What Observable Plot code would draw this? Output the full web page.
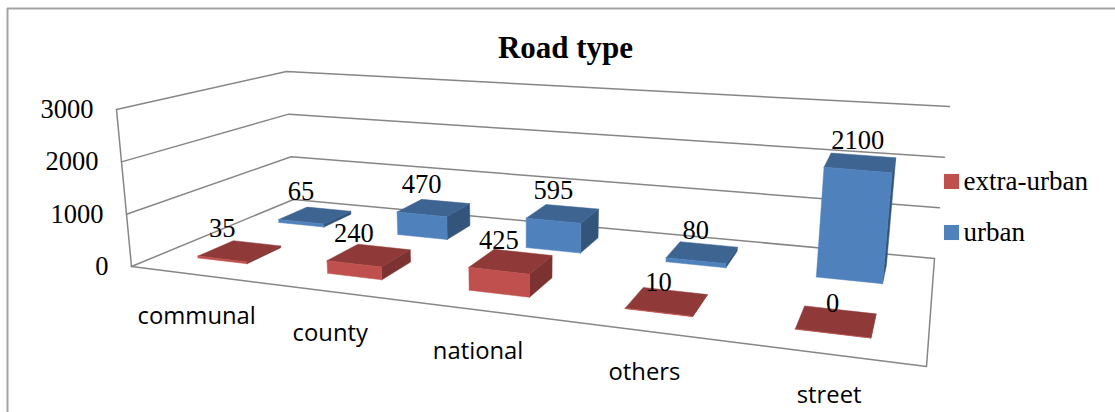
<!DOCTYPE html>
<html>
<head>
<meta charset="utf-8">
<script src="https://cdn.jsdelivr.net/npm/d3@7"></script>
<script src="https://cdn.jsdelivr.net/npm/@observablehq/plot@0.6"></script>
<style>
  html, body { margin: 0; padding: 0; background: #fff; }
  svg { display: block; }
</style>
</head>
<body>
<div id="chart"></div>
<script>
// Road type totals per category and series
const categories = ["communal", "county", "national", "others", "street"];
const extraUrban = [35, 240, 425, 10, 0];
const urban = [65, 470, 595, 80, 2100];
const axisTicks = [0, 1000, 2000, 3000];
const axisMax = 3000;
const seriesNames = ["extra-urban", "urban"];

const width = 1115, height = 412;

// Camera of the 3D box: floor corners on the page, the point where verticals
// converge, and how far a full-scale column rises at each floor corner
const camera = {
  floor: {fl: [131, 266], fr: [926, 366], br: [934, 258], bl: [293, 199]},
  vanish: [526, 4397],
  rise: {fl: 0.038, fr: 0.043, br: 0.0367, bl: 0.0305}
};
// Slots along the floor for each category, and the two depth rows
const slotCentres = [0.1, 0.305, 0.507, 0.707, 0.902];
const labelSlots = [0.1, 0.302, 0.503, 0.705, 0.904];
const barLayout = {width: 0.4, depth: 0.205, rows: [0.16, 0.66]};

const palette = {
  "extra-urban": {front: "#C0504D", top: "#8F3A38", side: "#7B3230"},
  "urban": {front: "#4F81BD", top: "#3E6492", side: "#33557C"}
};

// Unit square to quadrilateral homography
function quadMap({fl, fr, br, bl}) {
  const [x0, y0] = fl, [x1, y1] = fr, [x2, y2] = br, [x3, y3] = bl;
  const dx1 = x1 - x2, dx2 = x3 - x2, sx = x0 - x1 + x2 - x3;
  const dy1 = y1 - y2, dy2 = y3 - y2, sy = y0 - y1 + y2 - y3;
  const den = dx1 * dy2 - dx2 * dy1;
  const g = (sx * dy2 - dx2 * sy) / den;
  const h = (dx1 * sy - sx * dy1) / den;
  const a = x1 - x0 + g * x1, b = x3 - x0 + h * x3;
  const d = y1 - y0 + g * y1, e = y3 - y0 + h * y3;
  return (u, v) => {
    const q = g * u + h * v + 1;
    return [(a * u + b * v + x0) / q, (d * u + e * v + y0) / q];
  };
}
const floorMap = quadMap(camera.floor);

// u runs along the categories, v into the depth, value up the vertical axis
function project(u, v, value) {
  const [px, py] = floorMap(u, v);
  const {fl, fr, br, bl} = camera.rise;
  const near = fl + (fr - fl) * u, far = bl + (br - bl) * u;
  const k = (near + (far - near) * v) * (value / axisMax);
  return [px + (px - camera.vanish[0]) * k, py + (py - camera.vanish[1]) * k];
}

// Polygons are flattened to vertices grouped by id, painted in array order
const polys = [];
const addPoly = (color, corners) => {
  const id = polys.length ? polys[polys.length - 1].id + 1 : 0;
  for (const [u, v, val] of corners) {
    const [x, y] = project(u, v, val);
    polys.push({id, color, x, y});
  }
  const [x, y] = project(...corners[0]);
  polys.push({id, color, x, y});
};

const dataLabels = [];
[[urban, "urban", 1], [extraUrban, "extra-urban", 0]].forEach(([values, name, row]) => {
  values.forEach((value, i) => {
    const uc = slotCentres[i];
    const half = barLayout.width / categories.length / 2;
    const u0 = uc - half, u1 = uc + half;
    const v0 = barLayout.rows[row], v1 = v0 + barLayout.depth;
    const c = palette[name];
    addPoly(c.side, [[u1, v0, 0], [u1, v1, 0], [u1, v1, value], [u1, v0, value]]);
    addPoly(c.top, [[u0, v0, value], [u1, v0, value], [u1, v1, value], [u0, v1, value]]);
    addPoly(c.front, [[u0, v0, 0], [u1, v0, 0], [u1, v0, value], [u0, v0, value]]);
    const [x, y] = project(uc, v0, value);
    dataLabels.push({x, y, value});
  });
});

// Box outline and gridlines
const gridPaths = [];
const addPath = (pts) => {
  const id = gridPaths.length ? gridPaths[gridPaths.length - 1].id + 1 : 0;
  pts.forEach(([u, v, val]) => {
    const [x, y] = project(u, v, val);
    gridPaths.push({id, x, y});
  });
};
axisTicks.forEach((t) => addPath([[0, 0, t], [0, 1, t], [1, 1, t]]));
addPath([[0, 0, 0], [0, 0, axisMax]]);
addPath([[0, 0, 0], [1, 0, 0], [1, 1, 0]]);

const tickLabels = axisTicks.map((t) => {
  const [x, y] = project(0, 0, t);
  return {x, y, t};
});
const categoryLabels = categories.map((name, i) => {
  const [x, y] = project(labelSlots[i], 0.02, 0);
  return {x, y, name};
});

const frame = [{x: 7, y: height}, {x: 7, y: 8}, {x: width, y: 8}];
const legendRows = seriesNames.map((name, i) => ({name, x: 951, y: 181 + i * 51}));

const serif = "'Liberation Serif', serif";

const chart = Plot.plot({
  width, height,
  margin: 0,
  style: {background: "#fff", overflow: "hidden"},
  x: {domain: [0, width], range: [0, width], axis: null},
  y: {domain: [0, height], range: [0, height], axis: null},
  marks: [
    Plot.line(frame, {x: "x", y: "y", stroke: "#A3A3A3", strokeWidth: 2}),
    Plot.line(gridPaths, {x: "x", y: "y", z: "id", stroke: "#868686", strokeWidth: 1.5}),
    Plot.line(polys, {x: "x", y: "y", z: "id", fill: "color", stroke: "color", strokeWidth: 0.5}),
    Plot.text(dataLabels, {x: "x", y: "y", text: (d) => String(d.value), dy: -30, fontSize: 26.5, fontFamily: serif, fill: "#000"}),
    Plot.text(tickLabels, {x: "x", y: "y", text: (d) => String(d.t), dx: -23, textAnchor: "end", fontSize: 26.5, fontFamily: serif, fill: "#000"}),
    Plot.text(categoryLabels, {x: "x", y: "y", text: "name", dy: 44, fontSize: 23.8, fontFamily: "'Open Sans', sans-serif", fill: "#000"}),
    Plot.text(["Road type"], {x: () => 565, y: () => 48, text: (d) => d, fontSize: 31, fontWeight: "bold", fontFamily: serif, fill: "#000"}),
    Plot.dot(legendRows, {x: "x", y: "y", symbol: "square", r: 8.5, fill: (d) => palette[d.name].front}),
    Plot.text(legendRows, {x: "x", y: "y", text: "name", dx: 12, textAnchor: "start", fontSize: 27, fontFamily: serif, fill: "#000"})
  ]
});
document.getElementById("chart").append(chart);
</script>
</body>
</html>
